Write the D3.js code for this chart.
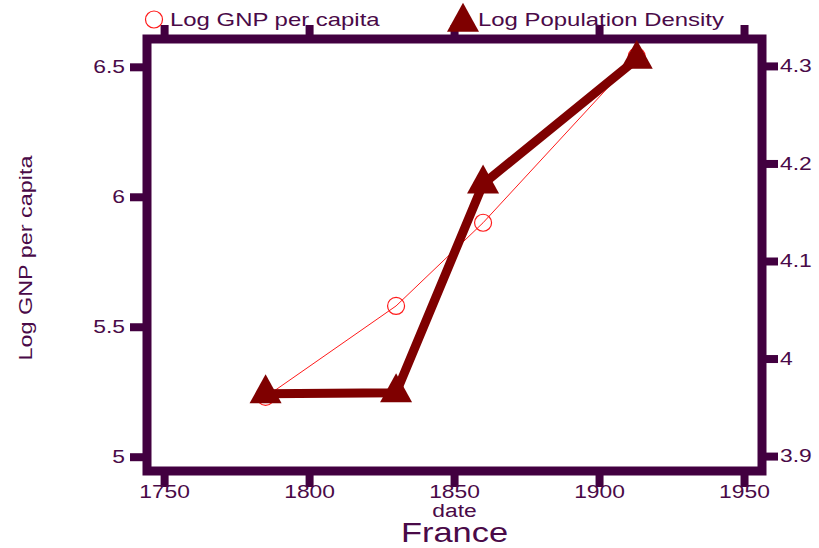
<!DOCTYPE html>
<html>
<head>
<meta charset="utf-8">
<script src="https://cdn.jsdelivr.net/npm/d3@7"></script>
<style>
  html, body { margin: 0; padding: 0; background: #fff; }
  svg { display: block; }
  text { font-family: "Liberation Sans", Arial, sans-serif; fill: #4a0a48; }
</style>
</head>
<body>
<svg id="chart" width="819" height="548"></svg>
<script>
// France: log GNP per capita and log population density over time
const years = [1785, 1830, 1860, 1913];
const logGnp = [5.23, 5.58, 5.90, 6.54];
const logDensity = [3.964, 3.965, 4.179, 4.307];

const yearTicks = [1750, 1800, 1850, 1900, 1950];
const gnpTicks = [5, 5.5, 6, 6.5];
const densityTicks = [3.9, 4, 4.1, 4.2, 4.3];

const seriesNames = ["Log GNP per capita", "Log Population Density"];
const xTitle = "date";
const yTitle = "Log GNP per capita";
const chartTitle = "France";

const FRAME = "#420040";
const GNP_COLOR = "#ff1a1a";
const DENS_COLOR = "#7f0000";
const STRETCH = 1.27; // wide lettering

const svg = d3.select("#chart");
svg.append("rect").attr("width", 819).attr("height", 548).attr("fill", "#fff");

const plot = { left: 147, right: 762, top: 39, bottom: 471 };

const x = d3.scaleLinear().domain([1744.1, 1956.2]).range([plot.left, plot.right]);
const yL = d3.scaleLinear().domain([4.945, 6.607]).range([plot.bottom, plot.top]);
const yR = d3.scaleLinear().domain([3.8847, 4.3276]).range([plot.bottom, plot.top]);

// horizontally widened text label
function label(parent, px, py, str, size, anchor, rotate, sx) {
  return parent.append("text")
    .attr("transform", `translate(${px},${py})` + (rotate ? ` rotate(${rotate})` : "") + ` scale(${sx || STRETCH},1)`)
    .attr("font-size", size)
    .attr("text-anchor", anchor)
    .text(str);
}

// triangle marker centred on its centroid
function triPath(cx, cy, w, h) {
  return `M${cx},${cy - 2 * h / 3}L${cx + w / 2},${cy + h / 3}L${cx - w / 2},${cy + h / 3}Z`;
}

// axes (ticks only; frame drawn separately)
function styleAxis(g) {
  g.select(".domain").remove();
  g.selectAll(".tick line").attr("stroke", FRAME).attr("stroke-width", 8);
}

const axB = svg.append("g").attr("transform", `translate(0,${plot.bottom})`)
  .call(d3.axisBottom(x).tickValues(yearTicks).tickFormat(d3.format("d")).tickSize(16).tickPadding(0))
  .call(styleAxis);
svg.append("g").attr("transform", `translate(0,${plot.top})`)
  .call(d3.axisTop(x).tickValues(yearTicks).tickFormat("").tickSize(14))
  .call(styleAxis);
const axL = svg.append("g").attr("transform", `translate(${plot.left},0)`)
  .call(d3.axisLeft(yL).tickValues(gnpTicks).tickFormat(d3.format("~g")).tickSize(17).tickPadding(5))
  .call(styleAxis);
const axR = svg.append("g").attr("transform", `translate(${plot.right},0)`)
  .call(d3.axisRight(yR).tickValues(densityTicks).tickFormat(d3.format("~g")).tickSize(16).tickPadding(2))
  .call(styleAxis);

// re-style tick labels with widened lettering
[axB, axL, axR].forEach(ax => {
  ax.selectAll(".tick text").each(function () {
    const t = d3.select(this);
    const tx = +t.attr("x") || 0;
    const ty = +t.attr("y") || 0;
    t.attr("x", null).attr("y", null)
      .attr("transform", `translate(${tx},${ty}) scale(${STRETCH},1)`)
      .attr("font-size", 18)
      .attr("fill", "#4a0a48")
      .attr("font-family", null);
  });
});
axB.selectAll(".tick text").attr("dy", "0.62em");

// frame
svg.append("rect")
  .attr("x", plot.left).attr("y", plot.top)
  .attr("width", plot.right - plot.left).attr("height", plot.bottom - plot.top)
  .attr("fill", "none").attr("stroke", FRAME).attr("stroke-width", 9);

// GNP series: thin red line with hollow circles
const gnpLine = d3.line().x((d, i) => x(years[i])).y(d => yL(d));
svg.append("path").datum(logGnp)
  .attr("d", gnpLine).attr("fill", "none")
  .attr("stroke", GNP_COLOR).attr("stroke-width", 1);
svg.selectAll(".gnp-pt").data(logGnp).join("circle")
  .attr("class", "gnp-pt")
  .attr("cx", (d, i) => x(years[i])).attr("cy", d => yL(d)).attr("r", 8.5)
  .attr("fill", "none").attr("stroke", GNP_COLOR).attr("stroke-width", 1.2);

// population density series: heavy dark red line with filled triangles
const densLine = d3.line().x((d, i) => x(years[i])).y(d => yR(d));
svg.append("path").datum(logDensity)
  .attr("d", densLine).attr("fill", "none")
  .attr("stroke", DENS_COLOR).attr("stroke-width", 9).attr("stroke-linejoin", "miter");
svg.selectAll(".dens-pt").data(logDensity).join("path")
  .attr("class", "dens-pt")
  .attr("d", (d, i) => triPath(x(years[i]), yR(d), 32, 29))
  .attr("fill", DENS_COLOR);

// legend
svg.append("circle").attr("cx", 154).attr("cy", 19.5).attr("r", 8.5)
  .attr("fill", "none").attr("stroke", GNP_COLOR).attr("stroke-width", 1.2);
label(svg, 170, 26, seriesNames[0], 18, "start", 0, 1.33);
svg.append("path").attr("d", triPath(463, 22, 32, 29)).attr("fill", DENS_COLOR);
label(svg, 478, 26, seriesNames[1], 18, "start", 0, 1.33);

// titles
label(svg, (plot.left + plot.right) / 2, 517, xTitle, 19, "middle", 0, 1.2);
label(svg, (plot.left + plot.right) / 2, 542, chartTitle, 28, "middle", 0, 1.23);
label(svg, 32, 258, yTitle, 18, "middle", -90, 1.3);
</script>
</body>
</html>
